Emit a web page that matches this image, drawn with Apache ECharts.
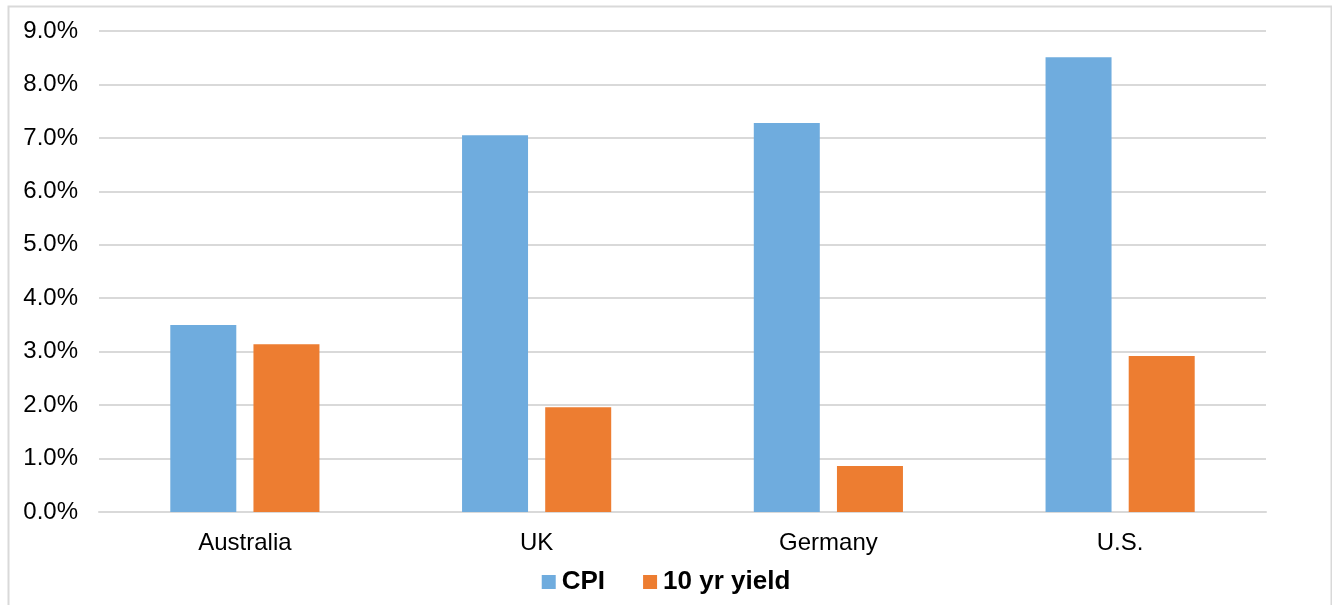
<!DOCTYPE html>
<html>
<head>
<meta charset="utf-8">
<script src="https://cdn.jsdelivr.net/npm/echarts@6/dist/echarts.min.js"></script>
<style>html,body{margin:0;padding:0;background:#fff;}#c{width:1332px;height:605px;}</style>
</head>
<body>
<div id="c"></div>
<script>
const categories = ['Australia', 'UK', 'Germany', 'U.S.'];
const cpi = [3.50, 7.05, 7.28, 8.51];
const yield10 = [3.14, 1.96, 0.86, 2.92];
const seriesNames = ['CPI', '10 yr yield'];

const chart = echarts.init(document.getElementById('c'));
const font = 'Liberation Sans, Arial, sans-serif';
chart.setOption({
  animation: false,
  backgroundColor: '#fff',
  graphic: [{
    type: 'rect', left: 6, top: 4, silent: true,
    shape: { x: 0, y: 0, width: 1323, height: 610 },
    style: { fill: 'none', stroke: '#d9d9d9', lineWidth: 2 }
  }],
  grid: { left: 99, right: 66, top: 31, bottom: 93, containLabel: false },
  legend: {
    bottom: 5, left: 'center',
    itemWidth: 14, itemHeight: 14, itemGap: 38,
    icon: 'rect',
    textStyle: { fontFamily: font, fontSize: 26, fontWeight: 'bold', color: '#000', padding: [0, 0, 0, 1] },
    data: seriesNames
  },
  xAxis: {
    type: 'category', data: categories,
    axisLine: { lineStyle: { color: '#d9d9d9', width: 2 } },
    axisTick: { show: false },
    axisLabel: { fontFamily: font, fontSize: 24, color: '#000', margin: 19 }
  },
  yAxis: {
    type: 'value', min: 0, max: 9, interval: 1,
    axisLine: { show: false }, axisTick: { show: false },
    splitLine: { lineStyle: { color: '#d9d9d9', width: 2 } },
    axisLabel: { fontFamily: font, fontSize: 24, color: '#000', margin: 21,
      formatter: v => v.toFixed(1) + '%' }
  },
  series: [
    { name: seriesNames[0], type: 'bar', data: cpi, barWidth: 66, barGap: '26%',
      itemStyle: { color: '#6FACDE' } },
    { name: seriesNames[1], type: 'bar', data: yield10, barWidth: 66,
      itemStyle: { color: '#ED7D31' } }
  ]
});
</script>
</body>
</html>
